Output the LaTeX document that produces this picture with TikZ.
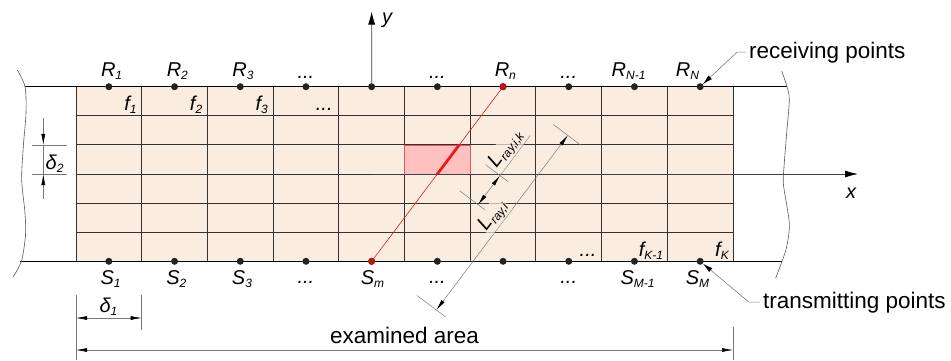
\documentclass[tikz,border=0pt]{standalone}
\usepackage{fontspec}
\setmainfont{Liberation Sans}
\usetikzlibrary{arrows.meta,calc}

\definecolor{cellfill}{RGB}{250,236,222}
\definecolor{cellred}{RGB}{255,192,192}
\definecolor{rayred}{RGB}{228,30,30}
\definecolor{dotred}{RGB}{190,20,20}
\definecolor{dotgray}{RGB}{35,35,35}
\definecolor{dimgray}{RGB}{120,120,120}

\newcommand{\colw}{65.7}
\newcommand{\rowh}{29.1}
\newcommand{\gridl}{76}
\newcommand{\gridr}{733}
\newcommand{\gridt}{86.7}
\newcommand{\gridb}{261.3}
\newcommand{\subidx}[1]{\raisebox{-3.5pt}{\fontsize{12}{12}\selectfont #1}}

\tikzset{
  lbl/.style={font=\fontsize{20}{22}\selectfont\itshape, inner sep=0pt},
  txt/.style={font=\fontsize{22.5}{24}\selectfont, inner sep=0pt},
  pointdot/.style={circle, fill=dotgray, inner sep=0pt, minimum size=7pt},
  reddot/.style={pointdot, fill=dotred},
  gridline/.style={draw=black!80, line width=0.9pt},
  breakline/.style={draw=black!65, line width=0.6pt},
  dimline/.style={draw=dimgray, line width=0.5pt},
  dimarrow/.style={dimline, >={Latex[length=11pt,width=4pt,color=black]}, <->},
  callout/.style={draw=black!50, line width=0.6pt, -{Latex[length=10pt,width=5pt,color=black]}},
  axisline/.style={draw=black!75, line width=0.8pt, -{Latex[length=13pt,width=7pt,color=black]}},
  raylbl/.style={lbl, rotate=53.06, anchor=south, inner sep=1pt, fill=cellfill, fill opacity=0.7, text opacity=1}
}

\begin{document}
\begin{tikzpicture}[x=1pt,y=-1pt]

\useasboundingbox (0,0) rectangle (951,360);

% draw cells
\fill[cellfill] (\gridl,\gridt) rectangle (\gridr,\gridb);
\fill[cellred] (404.5,144.9) rectangle (470.2,174.0);
\foreach \i in {0,...,10}
  \draw[gridline] ({\gridl+\i*\colw},\gridt) -- ({\gridl+\i*\colw},\gridb);
\foreach \j in {1,...,5}
  \draw[gridline] (\gridl,{\gridt+\j*\rowh}) -- (\gridr,{\gridt+\j*\rowh});
\draw[draw=rayred!75, line width=0.8pt] (404.5,144.9) rectangle (470.2,174.0);

% draw boundaries and breaks
\draw[line width=1.3pt] (25,\gridt) -- (787,\gridt);
\draw[line width=1.3pt] (20,\gridb) -- (782,\gridb);
\draw[breakline] plot[smooth] coordinates {(17.3,70) (25,86.7) (26,113) (23.3,146.7) (21.7,180) (25,213) (25.5,235) (21.5,261) (13,277)};
\draw[breakline] plot[smooth] coordinates {(781.7,71) (787,86.7) (789.3,100) (786.7,133) (784,167) (783.5,185) (789.3,223) (786.7,246.7) (782,261.3) (775.7,278)};

% draw points
\foreach \i in {1,...,10} {
  \node[pointdot] (R\i) at ({\gridl+(\i-0.5)*\colw},\gridt) {};
  \node[pointdot] (S\i) at ({\gridl+(\i-0.5)*\colw},\gridb) {};
}
\node[reddot] (Rn) at (R7) {};
\node[reddot] (Sm) at (S5) {};

% draw ray
\draw[rayred, line width=0.6pt] (Rn) -- (Sm);
\begin{scope}
  \clip (404.5,144.9) rectangle (470.2,174.0);
  \draw[rayred, line width=2.8pt] (Rn) -- (Sm);
\end{scope}

% draw axes
\coordinate (ytip) at (371.65,11.5);
\coordinate (xorig) at (371.65,174.0);
\coordinate (xtip) at (858,174.0);
\draw[axisline] (R5) -- (ytip);
\draw[axisline] (xorig) -- (xtip);
\node[lbl, anchor=base west] (ylab) at (382,23) {y};
\node[lbl, anchor=base west] (xlab) at (846,198) {x};

% receiving labels
\foreach \i in {1,2,3}
  \node[lbl, anchor=base west] (Rlab\i) at ($(R\i)+(-8,-10.7)$) {R\subidx{\i}};
\foreach \i in {4,6,8}
  \node[lbl, anchor=base] (Rdots\i) at ($(R\i)+(0,-8.7)$) {...};
\node[lbl, anchor=base west] (Rlabn) at ($(R7)+(-8.5,-10.7)$) {R\subidx{n}};
\node[lbl, anchor=base west] (Rlab9) at ($(R9)+(-23,-10.7)$) {R\subidx{N-1}};
\node[lbl, anchor=base west] (Rlab10) at ($(R10)+(-24.5,-10.7)$) {R\subidx{N}};

% transmitting labels
\foreach \i in {1,2,3}
  \node[lbl, anchor=base west] (Slab\i) at ($(S\i)+(-8.5,22.7)$) {S\subidx{\i}};
\foreach \i in {4,6,8}
  \node[lbl, anchor=base] (Sdots\i) at ($(S\i)+(0,22.5)$) {...};
\node[lbl, anchor=base west] (Slabm) at ($(S5)+(-11,22.7)$) {S\subidx{m}};
\node[lbl, anchor=base west] (Slab9) at ($(S9)+(-14,22.7)$) {S\subidx{M-1}};
\node[lbl, anchor=base west] (Slab10) at ($(S10)+(-14.5,22.7)$) {S\subidx{M}};

% cell labels
\foreach \i in {1,2,3}
  \node[lbl, anchor=base east] (f\i) at ({\gridl+\i*\colw-5},110) {f\subidx{\i}};
\node[lbl, anchor=base east] (fdots) at ({\gridl+4*\colw-6},110) {...};
\node[lbl, anchor=base east] (fdotsb) at ({\gridl+8*\colw-5},256) {...};
\node[lbl, anchor=base east] (fK1) at ({\gridl+9*\colw-4},256) {f\subidx{K-1}};
\node[lbl, anchor=base east] (fK) at ({\gridl+10*\colw-4},256) {f\subidx{K}};

% callouts
\node[txt, anchor=base west, inner xsep=3pt] (recv) at (746,58) {receiving points};
\node[txt, anchor=base west, inner xsep=3pt] (trans) at (760,308) {transmitting points};
\draw[callout] (recv.west) -- ++(-9,0) -- (R10);
\draw[callout] (trans.west) -- ++(-11,0) -- (S10);

% delta 2
\coordinate (d2a) at (43.3,144.9);
\coordinate (d2b) at (43.3,174.0);
\draw[dimline] (32,144.9) -- (67,144.9);
\draw[dimline] (32,174.0) -- (67,174.0);
\draw[dimline] (d2a) -- (d2b);
\draw[dimline, -{Latex[length=11pt,width=4pt,color=black]}] (43.3,118) -- (d2a);
\draw[dimline, -{Latex[length=11pt,width=4pt,color=black]}] (43.3,199) -- (d2b);
\node[lbl, anchor=base west] (delta2) at (45.5,169) {δ\subidx{2}};

% delta 1
\coordinate (d1a) at (\gridl,318);
\coordinate (d1b) at (141.7,318);
\draw[dimline] (\gridl,295) -- (\gridl,360);
\draw[dimline] (141.7,295) -- (141.7,330);
\draw[dimarrow] (d1a) -- (d1b);
\node[lbl, anchor=base] (delta1) at (108.5,312) {δ\subidx{1}};

% examined area
\coordinate (ea) at (\gridl,350);
\coordinate (eb) at (\gridr,350);
\draw[dimline] (\gridr,327) -- (\gridr,360);
\draw[dimarrow] (ea) -- (eb);
\node[txt, anchor=base] (area) at (404.5,343) {examined area};

% ray length in cell
\coordinate (Pa) at ($(Rn.center)!0.3333!(Sm.center)$);
\coordinate (Pb) at ($(Rn.center)!0.5!(Sm.center)$);
\coordinate (Da) at ($(Pa)!51pt!90:(Sm.center)$);
\coordinate (Db) at ($(Pb)!51pt!90:(Sm.center)$);
\coordinate (Dc) at ($(Da)!-50pt!(Db)$);
\draw[dimline] ($(Pa)!33pt!90:(Sm.center)$) -- ($(Pa)!61pt!90:(Sm.center)$);
\draw[dimline] ($(Pb)!28pt!90:(Sm.center)$) -- ($(Pb)!61pt!90:(Sm.center)$);
\draw[dimarrow] (Da) -- (Db);
\draw[dimline] (Da) -- (Dc);
\node[raylbl] (Lik) at ($(Da)!0.5!(Dc)$) {L\subidx{ray,i,k}};

% ray length
\coordinate (Ea) at ($(Rn.center)!81pt!90:(Sm.center)$);
\coordinate (Eb) at ($(Sm.center)!81pt!-90:(Rn.center)$);
\draw[dimline] ($(Rn.center)!63pt!90:(Sm.center)$) -- ($(Rn.center)!97pt!90:(Sm.center)$);
\draw[dimline] ($(Sm.center)!57pt!-90:(Rn.center)$) -- ($(Sm.center)!93pt!-90:(Rn.center)$);
\draw[dimarrow] (Ea) -- (Eb);
\node[raylbl] (Li) at ($(Ea)!0.5!(Eb)$) {L\subidx{ray,i}};

\end{tikzpicture}
\end{document}
